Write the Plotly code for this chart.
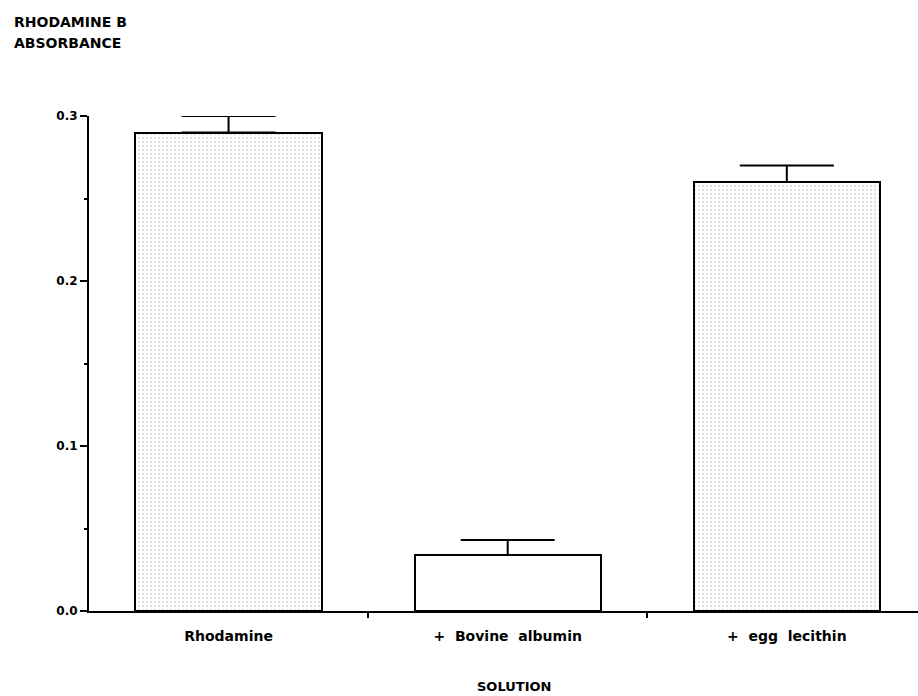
import plotly.graph_objects as go

categories = ["Rhodamine", "+\u00a0\u00a0Bovine\u00a0\u00a0albumin", "+\u00a0\u00a0egg\u00a0\u00a0lecithin"]
absorbance = [0.29, 0.034, 0.26]
error_up = [0.010, 0.009, 0.010]
y_ticks = [0.0, 0.1, 0.2, 0.3]
y_tick_labels = ["0.0", "0.1", "0.2", "0.3"]

FONT = "DejaVu Sans"
x_pos = list(range(len(categories)))

fig = go.Figure()
fig.add_trace(go.Bar(
    x=x_pos,
    y=absorbance,
    width=0.667,
    marker=dict(
        color="white",
        line=dict(color="black", width=2),
        pattern=dict(shape=[".", "", "."], fgcolor="#b0b0b0", bgcolor="white",
                     size=4, solidity=0.22, fillmode="overlay"),
    ),
    error_y=dict(type="data", symmetric=False, array=error_up,
                 arrayminus=[0] * len(error_up),
                 color="black", thickness=2, width=47),
    cliponaxis=False,
    showlegend=False,
))

fig.update_layout(
    width=918, height=696,
    margin=dict(l=89, r=0, t=116, b=85),
    plot_bgcolor="white", paper_bgcolor="white",
    font=dict(family=FONT, color="black"),
    bargap=0,
    xaxis=dict(
        range=[-0.5, 2.47],
        tickvals=x_pos, ticktext=categories,
        ticks="outside", ticklen=11, tickcolor="rgba(0,0,0,0)",
        tickfont=dict(family=FONT, size=14, weight="bold"),
        showline=True, linecolor="black", linewidth=2,
        showgrid=False, zeroline=False,
        minor=dict(tickvals=[0.5, 1.5], ticks="outside", ticklen=5,
                   tickwidth=1.5, tickcolor="black", showgrid=False),
    ),
    yaxis=dict(
        range=[0, 0.3],
        tickvals=y_ticks, ticktext=y_tick_labels,
        ticks="outside", ticklen=7, tickwidth=2, tickcolor="black",
        tickfont=dict(family=FONT, size=12, weight="bold"),
        showline=True, linecolor="black", linewidth=2,
        showgrid=False, zeroline=False,
        minor=dict(dtick=0.05, ticks="outside", ticklen=3, tickwidth=1.5,
                   tickcolor="black", showgrid=False),
    ),
    annotations=[
        dict(text="RHODAMINE B", xref="paper", yref="paper",
             x=-77 / 829, y=(611 - 12) / 495, xanchor="left", yanchor="top",
             showarrow=False, font=dict(family=FONT, size=14, weight="bold")),
        dict(text="ABSORBANCE", xref="paper", yref="paper",
             x=-77 / 829, y=(611 - 33) / 495, xanchor="left", yanchor="top",
             showarrow=False, font=dict(family=FONT, size=14, weight="bold")),
        dict(text="SOLUTION", xref="paper", yref="paper",
             x=(514 - 89) / 829, y=(611 - 686) / 495, xanchor="center",
             yanchor="middle", showarrow=False,
             font=dict(family=FONT, size=13, weight="bold")),
    ],
)

fig.write_html("out.html")
